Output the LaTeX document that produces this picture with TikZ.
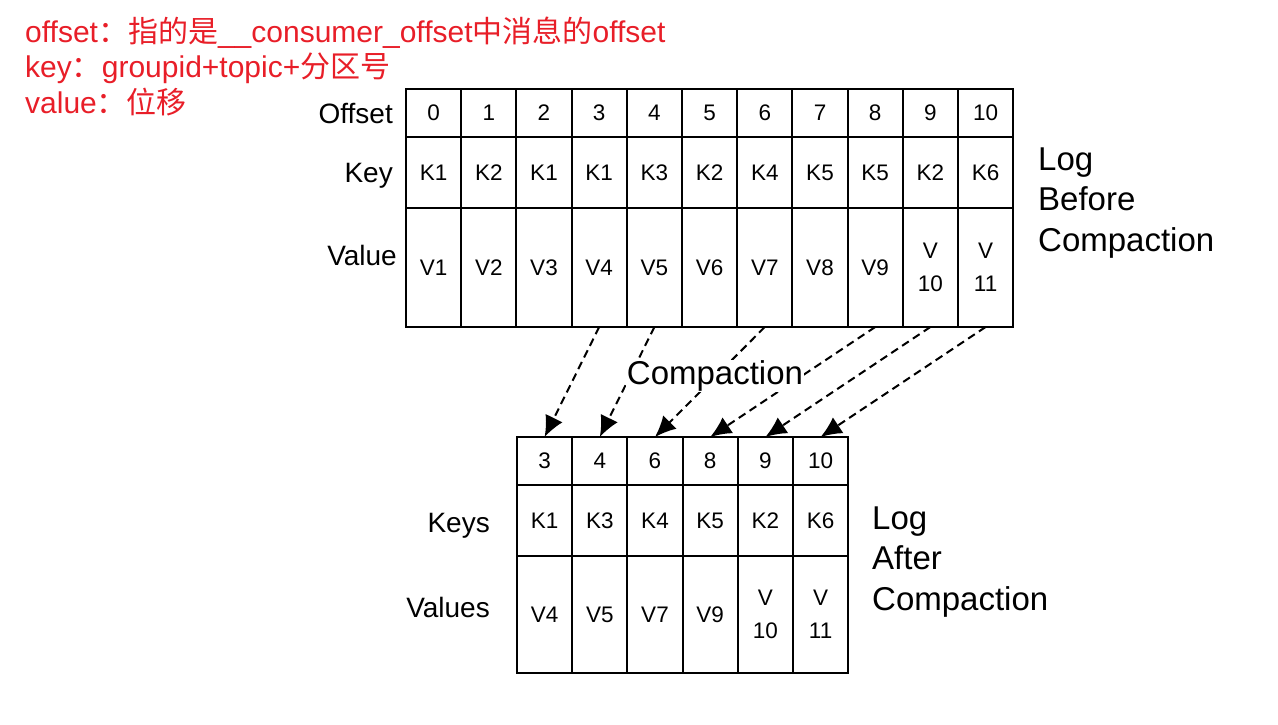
\documentclass[tikz,border=0pt]{standalone}
\usepackage{fontspec}
\setmainfont{Liberation Sans}
\newfontfamily\cjk{Noto Sans CJK SC}
\usepackage{tikz}
\usetikzlibrary{arrows.meta,positioning}
\usepackage{xcolor}
\definecolor{notered}{RGB}{232,30,40}

\begin{document}
\begin{tikzpicture}[x=1pt, y=-1pt]
\tikzset{
    cell/.style={rectangle, draw=black, line width=2pt, minimum width=55.2pt, inner sep=0pt, outer sep=0pt, align=center, font=\fontsize{22.5}{33}\selectfont},
    offcell/.style={cell, minimum height=48pt},
    keycell/.style={cell, minimum height=71pt},
    valcell/.style={cell, minimum height=119pt},
    rowlabel/.style={anchor=base east, inner sep=0pt, font=\fontsize{28}{32}\selectfont},
    loglabel/.style={anchor=west, align=left, inner sep=0pt, font=\fontsize{33}{40.5}\selectfont},
    notetext/.style={anchor=base west, inner sep=0pt, text=notered, font=\fontsize{30}{36}\selectfont},
    myarrow/.style={-{Latex[length=21pt,width=19pt]}, line width=2pt, dash pattern=on 8pt off 5pt}
}
\useasboundingbox (0,0) rectangle (1278,724);

% notes in red
\node[notetext] (note1) at (25,42) {offset{\cjk ：指的是}\_\_consumer\_offset{\cjk 中消息的}offset};
\node[notetext] (note2) at (25,77) {key{\cjk ：}groupid+topic+{\cjk 分区号}};
\node[notetext] (note3) at (25,113) {value{\cjk ：位移}};

% log before compaction
\foreach \k/\v [count=\i from 0] in {K1/V1, K2/V2, K1/V3, K1/V4, K3/V5, K2/V6, K4/V7, K5/V8, K5/V9, K2/{V\\10}, K6/{V\\11}} {
    \node[offcell] (toff\i) at ({406+55.2*(\i+0.5)},113) {\i};
    \node[keycell, below=0pt of toff\i] (tkey\i) {\k};
    \node[valcell, below=0pt of tkey\i] (tval\i) {\v};
}
\node[rowlabel] (toffname) at (393,123) {Offset};
\node[rowlabel] (tkeyname) at (393,182) {Key};
\node[rowlabel] (tvalname) at (397,265) {Value};
\node[loglabel] (before) at (1038,203) {Log\\Before\\Compaction};

% log after compaction
\foreach \o/\k/\v [count=\i] in {3/K1/V4, 4/K3/V5, 6/K4/V7, 8/K5/V9, 9/K2/{V\\10}, 10/K6/{V\\11}} {
    \node[offcell] (boff\i) at ({517+55.2*(\i-0.5)},461) {\o};
    \node[keycell, below=0pt of boff\i] (bkey\i) {\k};
    \node[valcell, below=0pt of bkey\i, minimum height=117pt] (bval\i) {\v};
}
\node[rowlabel] (bkeyname) at (490,532) {Keys};
\node[rowlabel] (bvalname) at (490,617) {Values};
\node[loglabel] (after) at (872,562) {Log\\After\\Compaction};

% kept records
\foreach \s/\t in {3/1, 4/2, 6/3, 8/4, 9/5, 10/6}
    \draw[myarrow] (tval\s.south) -- (boff\t.north);
% the white fill hides the arrow behind the text
\node[fill=white, inner sep=1pt, font=\fontsize{33}{36}\selectfont] (compaction) at (715,376) {Compaction};

\end{tikzpicture}
\end{document}
